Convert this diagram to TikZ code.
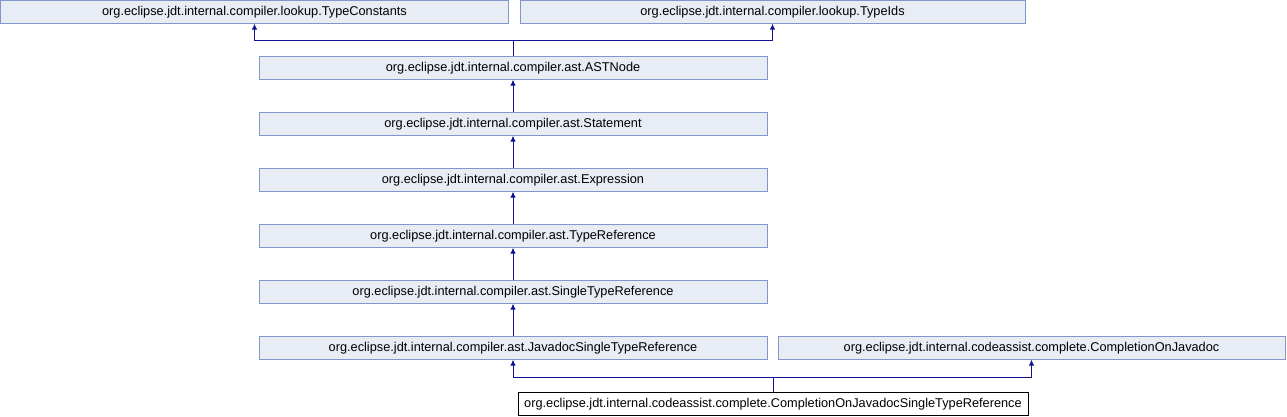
\documentclass[tikz,border=0pt]{standalone}
\usepackage{fontspec}
\setmainfont{Liberation Sans}
\usetikzlibrary{arrows.meta}
\definecolor{boxfill}{RGB}{232,236,244}
\definecolor{boxdraw}{RGB}{128,150,204}
\definecolor{edgecol}{RGB}{18,18,140}
\begin{document}
\begin{tikzpicture}[x=1pt,y=1pt,
  cls/.style={draw=boxdraw,fill=boxfill,line width=0.8pt,minimum height=22.5pt,inner sep=0pt,font=\fontsize{12.75}{14}\selectfont},
  cur/.style={draw=black,fill=white,line width=0.8pt,minimum height=22.5pt,inner sep=0pt,font=\fontsize{12.75}{14}\selectfont},
  edge/.style={draw=edgecol,line width=0.9pt},
  arr/.style={edge,-{Latex[length=6pt,width=5.5pt]}}]
\useasboundingbox (0,0) rectangle (1287,-416);
\node[cls,minimum width=508pt] (tc) at (254.5,-12) {org.eclipse.jdt.internal.compiler.lookup.TypeConstants};
\node[cls,minimum width=505pt] (ti) at (772.5,-12) {org.eclipse.jdt.internal.compiler.lookup.TypeIds};
\node[cls,minimum width=508pt] (ast) at (513,-68) {org.eclipse.jdt.internal.compiler.ast.ASTNode};
\node[cls,minimum width=508pt] (stmt) at (513,-124) {org.eclipse.jdt.internal.compiler.ast.Statement};
\node[cls,minimum width=508pt] (expr) at (513,-180) {org.eclipse.jdt.internal.compiler.ast.Expression};
\node[cls,minimum width=508pt] (tref) at (513,-236) {org.eclipse.jdt.internal.compiler.ast.TypeReference};
\node[cls,minimum width=508pt] (stref) at (513,-292) {org.eclipse.jdt.internal.compiler.ast.SingleTypeReference};
\node[cls,minimum width=508pt] (jstr) at (513,-348) {org.eclipse.jdt.internal.compiler.ast.JavadocSingleTypeReference};
\node[cls,minimum width=507pt] (coj) at (1031.5,-348) {org.eclipse.jdt.internal.codeassist.complete.CompletionOnJavadoc};
\node[cur,minimum width=510pt] (bot) at (773,-404) {org.eclipse.jdt.internal.codeassist.complete.CompletionOnJavadocSingleTypeReference};
\coordinate (t1) at (513,-40);
\coordinate (b1) at (773,-377);
\draw[edge] (ast.north) -- (t1);
\draw[arr] (t1) -| (tc.south);
\draw[arr] (t1) -| (ti.south);
\draw[arr] (stmt.north) -- (ast.south);
\draw[arr] (expr.north) -- (stmt.south);
\draw[arr] (tref.north) -- (expr.south);
\draw[arr] (stref.north) -- (tref.south);
\draw[arr] (jstr.north) -- (stref.south);
\draw[edge] (bot.north) -- (b1);
\draw[arr] (b1) -| (jstr.south);
\draw[arr] (b1) -| (coj.south);
\end{tikzpicture}
\end{document}
